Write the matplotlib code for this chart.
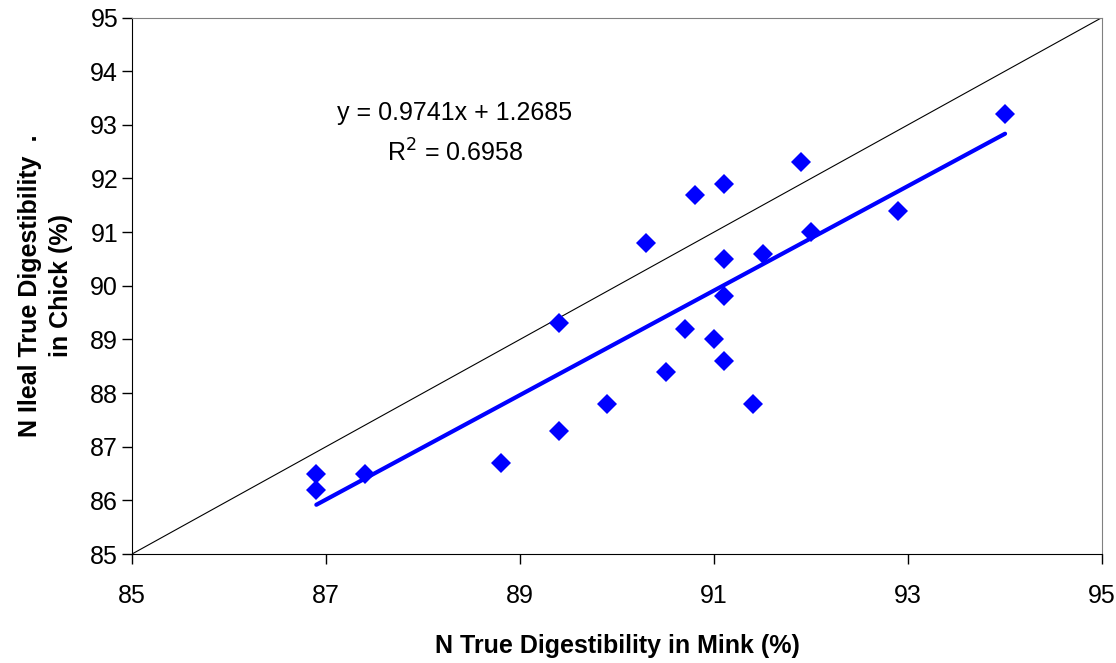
import numpy as np
import matplotlib.pyplot as plt

plt.rcParams['font.family'] = ['Liberation Sans', 'DejaVu Sans']

# N true digestibility: mink (x) vs chick ileal (y)
mink = [86.9, 86.9, 87.4, 88.8, 89.4, 89.4, 89.9, 90.3, 90.5, 90.7, 90.8,
        91.0, 91.1, 91.1, 91.1, 91.1, 91.4, 91.5, 91.9, 92.0, 92.9, 94.0]
chick = [86.5, 86.2, 86.5, 86.7, 87.3, 89.3, 87.8, 90.8, 88.4, 89.2, 91.7,
         89.0, 91.9, 90.5, 89.8, 88.6, 87.8, 90.6, 92.3, 91.0, 91.4, 93.2]

slope = 0.9741
intercept = 1.2685
r2 = 0.6958

fig = plt.figure(figsize=(11.16, 6.63), dpi=100)
ax = fig.add_axes([0.1183, 0.1644, 0.8692, 0.8092])

# 1:1 line
ax.plot([85, 95], [85, 95], color='black', lw=0.8, zorder=1)

# trend line
xs = np.array([min(mink), max(mink)])
ax.plot(xs, slope * xs + intercept, color='#0000FF', lw=3, solid_capstyle='round', zorder=2)

ax.plot(mink, chick, linestyle='none', marker='D', markersize=10.5,
        color='#0000FF', markeredgewidth=0, zorder=3)

ax.text(88.33, 93.22, 'y = %.4fx + %.4f' % (slope, intercept), ha='center', va='center', fontsize=18)
ax.text(88.33, 92.47, 'R$^2$ = %.4f' % r2, ha='center', va='center', fontsize=18)

ax.set_xlim(85, 95)
ax.set_ylim(85, 95)
ax.set_xticks(np.arange(85, 96, 2))
ax.set_yticks(np.arange(85, 96, 1))
ax.tick_params(direction='out', length=7, width=1, labelsize=18)
ax.tick_params(axis='x', pad=14.5)
ax.tick_params(axis='y', pad=3)

ax.spines['top'].set_color('#808080')
ax.spines['right'].set_color('#808080')
ax.spines['left'].set_color('black')
ax.spines['bottom'].set_color('black')

ax.set_xlabel('N True Digestibility in Mink (%)', fontsize=18, fontweight='bold', labelpad=19)
ax.set_ylabel('N Ileal True Digestibility  .\nin Chick (%)', fontsize=18,
              fontweight='bold', labelpad=12, linespacing=1.4)

fig.savefig('out.png', dpi=100)
